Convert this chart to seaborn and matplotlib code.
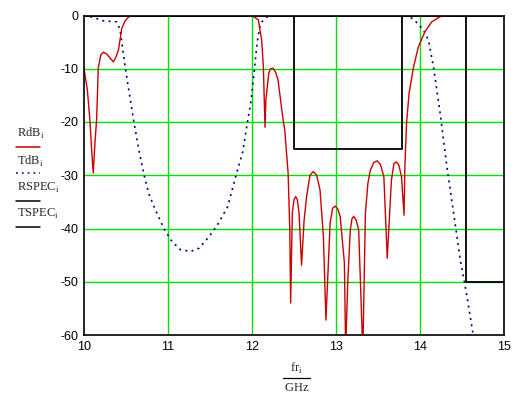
import numpy as np
import pandas as pd
import matplotlib
matplotlib.use("Agg")
import matplotlib.pyplot as plt
from matplotlib.lines import Line2D
import seaborn as sns

# RdB (reflection)
fr_r = [10.00, 10.04, 10.07, 10.09, 10.11, 10.13, 10.15, 10.17, 10.20, 10.23,
        10.27, 10.31, 10.35, 10.38, 10.41, 10.45, 10.49, 10.53, 10.57, 12.00,
        12.075, 12.115, 12.135, 12.155, 12.165, 12.20, 12.22, 12.25, 12.28, 12.31,
        12.37, 12.39, 12.43, 12.45, 12.46, 12.48, 12.50, 12.52, 12.54, 12.56,
        12.59, 12.62, 12.65, 12.69, 12.73, 12.77, 12.81, 12.85, 12.88, 12.93,
        12.96, 12.99, 13.02, 13.05, 13.10, 13.115, 13.14, 13.17, 13.19, 13.21,
        13.24, 13.27, 13.31, 13.32, 13.35, 13.38, 13.41, 13.45, 13.49, 13.53,
        13.57, 13.61, 13.66, 13.69, 13.72, 13.75, 13.78, 13.81, 13.82, 13.84,
        13.87, 13.92, 13.98, 14.06, 14.14, 14.24, 14.42]
rdb = [-10.0, -14.0, -19.6, -25.0, -29.6, -24.0, -19.6, -9.9, -7.4, -6.9,
       -7.2, -8.0, -8.7, -7.8, -6.5, -2.4, -1.0, -0.3, 0.0, 0.0,
       -0.8, -4.6, -9.6, -21.0, -15.9, -10.8, -10.0, -9.9, -10.6, -12.1,
       -19.6, -21.5, -29.6, -40.3, -54.0, -37.1, -34.6, -34.0, -34.6, -37.1,
       -46.9, -38.5, -34.0, -30.0, -29.3, -30.0, -32.8, -41.5, -57.2, -39.0,
       -36.2, -35.8, -36.3, -37.8, -46.5, -63.0, -50.0, -40.3, -38.2, -37.7,
       -38.4, -40.3, -59.0, -63.0, -37.1, -31.5, -29.0, -27.6, -27.3, -28.0,
       -30.3, -45.6, -30.9, -27.8, -27.5, -28.2, -30.3, -37.5, -28.4, -20.2,
       -14.6, -9.9, -5.9, -3.0, -1.2, -0.2, 0.0]

# TdB (transmission)
fr_t = [10.00, 10.10, 10.23, 10.39, 10.43, 10.49, 10.52, 10.59, 10.65, 10.71,
        10.77, 10.85, 10.95, 11.05, 11.15, 11.27, 11.37, 11.49, 11.59, 11.71,
        11.81, 11.89, 11.95, 11.99, 12.02, 12.06, 12.10, 12.17, 12.30, 13.85,
        13.93, 14.04, 14.10, 14.16, 14.24, 14.32, 14.40, 14.48, 14.56, 14.63]
tdb = [0.0, -0.3, -1.0, -1.2, -2.7, -9.6, -12.7, -19.6, -25.0, -29.6,
       -33.4, -36.5, -40.0, -42.5, -44.0, -44.3, -43.7, -41.5, -39.3, -35.9,
       -30.0, -25.6, -19.6, -15.9, -11.5, -5.2, -1.5, -0.3, 0.0, 0.0,
       -0.8, -2.7, -4.6, -9.6, -18.4, -28.4, -37.1, -45.9, -52.8, -59.7]

# spec masks
fr_rs = [10.0, 12.5, 12.5, 13.78, 13.78, 15.0]
rspec = [0, 0, -25, -25, 0, 0]
fr_ts = [10.0, 14.55, 14.55, 15.0]
tspec = [0, 0, -50, -50]

xticks = [10, 11, 12, 13, 14, 15]
yticks = [0, -10, -20, -30, -40, -50, -60]

sns.set_style("white")
plt.rcParams["font.family"] = ["Liberation Sans", "DejaVu Sans"]
plt.rcParams["mathtext.fontset"] = "custom"
plt.rcParams["mathtext.rm"] = "Liberation Serif"

W, H = 530, 396
fig = plt.figure(figsize=(W / 100, H / 100), dpi=100)
ax = fig.add_axes([84 / W, 1 - 335 / H, 420 / W, 319.5 / H])

red = "#cc0000"
navy = "#000080"
green = "#00e000"

for v in xticks[1:-1]:
    ax.axvline(v, color=green, lw=1.0, zorder=1)
for v in yticks[1:-1]:
    ax.axhline(v, color=green, lw=1.0, zorder=1)

df_r = pd.DataFrame({"f": fr_r, "v": rdb})
df_t = pd.DataFrame({"f": fr_t, "v": tdb})
df_rs = pd.DataFrame({"f": fr_rs, "v": rspec})
df_ts = pd.DataFrame({"f": fr_ts, "v": tspec})

sns.lineplot(data=df_rs, x="f", y="v", sort=False, estimator=None, color="black", lw=1.3, ax=ax)
sns.lineplot(data=df_ts, x="f", y="v", sort=False, estimator=None, color="black", lw=1.3, ax=ax)
sns.lineplot(data=df_t, x="f", y="v", sort=False, estimator=None, color=navy, lw=1.2,
             dashes=False, ax=ax).lines[-1].set_dashes([1.2, 2.6])
sns.lineplot(data=df_r, x="f", y="v", sort=False, estimator=None, color=red, lw=1.0, ax=ax)

ax.set_xlim(10, 15)
ax.set_ylim(-60, 0)
ax.set_xticks(xticks)
ax.set_yticks(yticks)
ax.set_xticklabels([str(v) for v in xticks])
ax.set_yticklabels([str(v) for v in yticks])
ax.tick_params(length=0, labelsize=9, pad=4, colors="black")
ax.set_xlabel("")
ax.set_ylabel("")
for s in ax.spines.values():
    s.set_color("black")
    s.set_linewidth(1.2)
    s.set_zorder(5)


def px(x, y):
    return x / W, 1 - y / H


# legend on the left, Mathcad style
labels = [("RdB", 137, 147, red, "-"),
          ("TdB", 165, 173, navy, ":"),
          ("RSPEC", 190.5, 201, "black", "-"),
          ("TSPEC", 216.5, 227, "black", "-")]
for name, ybase, yline, col, ls in labels:
    fig.text(*px(17, ybase), r"$\mathrm{%s}_\mathrm{i}$" % name, fontsize=9,
             ha="left", va="baseline")
    x0, y0 = px(16, yline)
    x1, _ = px(40, yline)
    ln = Line2D([x0, x1], [y0, y0], transform=fig.transFigure, color=col, lw=1.1)
    if ls == ":":
        ln.set_dashes([1.2, 2.6])
    fig.add_artist(ln)

# x-axis label as a fraction
fig.text(*px(296, 372), r"$\mathrm{fr}_\mathrm{i}$", fontsize=9, ha="center", va="baseline")
x0, y0 = px(283, 377.5)
x1, _ = px(310, 377.5)
fig.add_artist(Line2D([x0, x1], [y0, y0], transform=fig.transFigure, color="black", lw=0.9))
fig.text(*px(296.5, 391), r"$\mathrm{GHz}$", fontsize=9, ha="center", va="baseline")

fig.savefig("out.png", dpi=100)
